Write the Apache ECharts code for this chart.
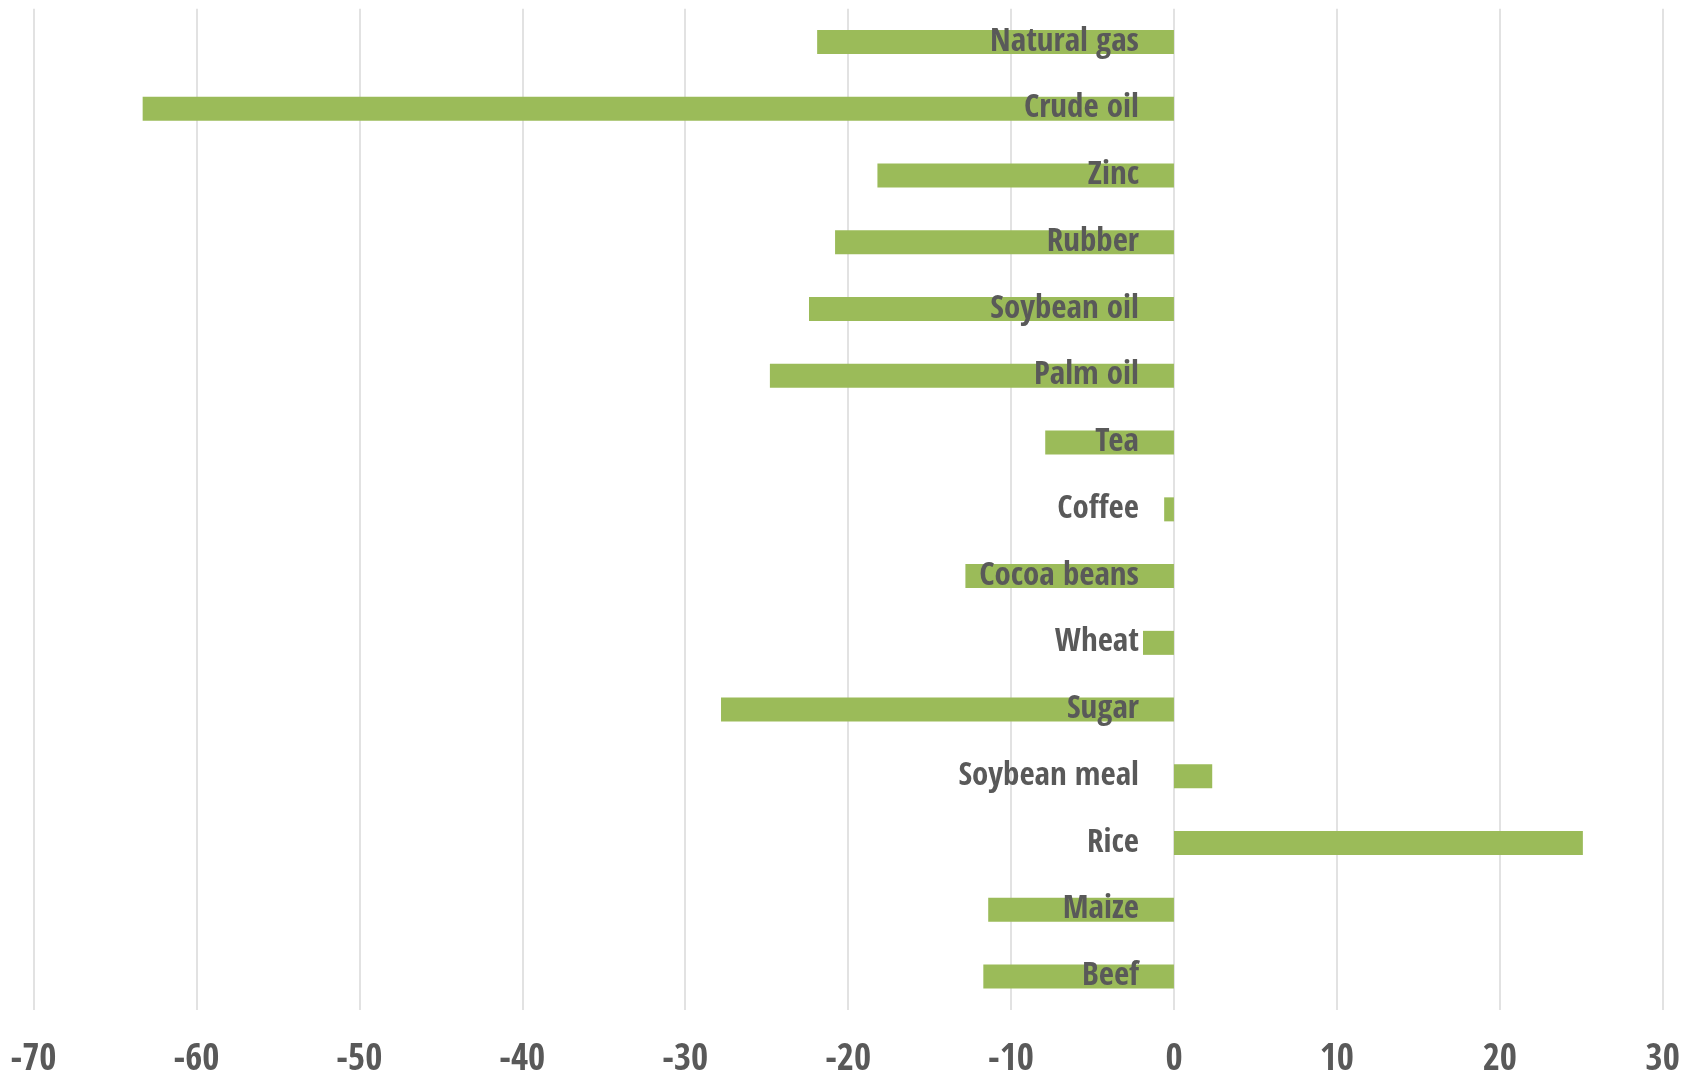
<!DOCTYPE html>
<html><head><meta charset="utf-8">
<script src="https://cdn.jsdelivr.net/npm/echarts@6/dist/echarts.min.js"></script>
<style>html,body{margin:0;padding:0;background:#fff}#c{width:1694px;height:1074px}</style>
</head><body><div id="c"></div>
<script>
const categories = ["Natural gas","Crude oil","Zinc","Rubber","Soybean oil","Palm oil","Tea","Coffee","Cocoa beans","Wheat","Sugar","Soybean meal","Rice","Maize","Beef"];
const values = [-21.9,-63.3,-18.2,-20.8,-22.4,-24.8,-7.9,-0.6,-12.8,-1.9,-27.8,2.35,25.1,-11.4,-11.7];
const xMin = -70, xMax = 30, xStep = 10;

const font = '"Open Sans Condensed", "Roboto Condensed", sans-serif';
const gridLeft = 33.5;
const chart = echarts.init(document.getElementById('c'));
const option = {
  animation: false,
  grid: {left: gridLeft, right: 31.3, top: 8.7, bottom: 64, containLabel: false, outerBoundsMode: 'none'},
  xAxis: {
    type: 'value', min: xMin, max: xMax, interval: xStep,
    axisLine: {show: false}, axisTick: {show: false},
    splitLine: {show: true, lineStyle: {color: '#D9D9D9', width: 1.5}},
    axisLabel: {color: '#595959', fontFamily: font, fontWeight: 'bold', fontSize: 37, margin: 32}
  },
  yAxis: {
    type: 'category', data: categories, inverse: true, z: 10, offset: 0,
    axisLine: {show: false, onZero: false},
    axisTick: {show: false},
    axisLabel: {color: '#595959', fontFamily: font, fontWeight: 'bold', fontSize: 33, margin: 35, padding: [12, 0, 0, 0]}
  },
  series: [{
    type: 'bar', data: values, barWidth: 24,
    itemStyle: {color: '#9BBB59'}
  }]
};
chart.setOption(option);
const x0 = chart.convertToPixel({xAxisIndex: 0}, 0);
chart.setOption({yAxis: {offset: -(x0 - gridLeft)}});
</script></body></html>
